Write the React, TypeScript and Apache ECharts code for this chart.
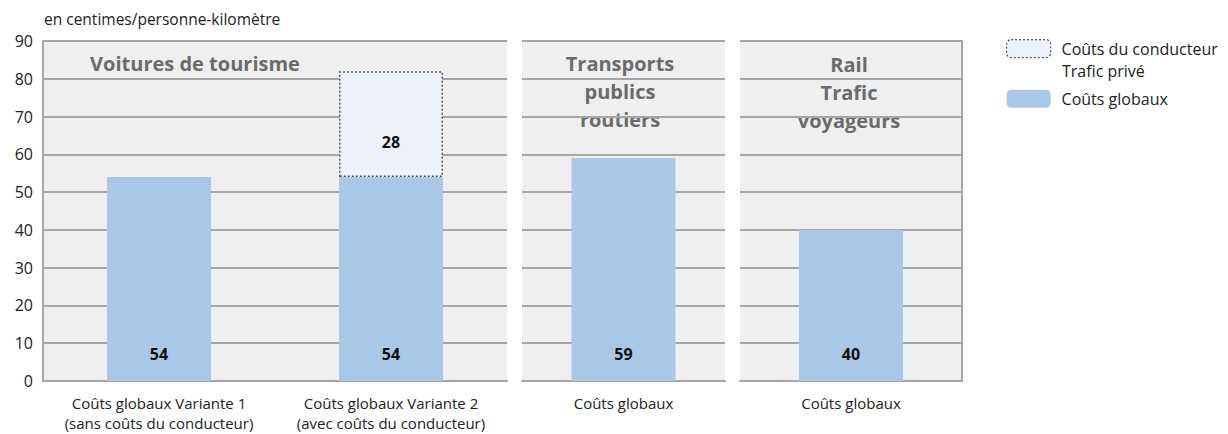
import React, { useEffect, useRef } from "react";
import * as echarts from "echarts";

const carCategories = [
  "Coûts globaux Variante 1\n(sans coûts du conducteur)",
  "Coûts globaux Variante 2\n(avec coûts du conducteur)",
];
const publicCategories = ["Coûts globaux"];
const railCategories = ["Coûts globaux"];
const carGlobal = [54, 54];
const carDriver: (number | null)[] = [null, 28];
const publicGlobal = [59];
const railGlobal = [40];
const yTicks = [0, 10, 20, 30, 40, 50, 60, 70, 80, 90];
const driverName = "Coûts du conducteur";
const driverNameLine2 = "Trafic privé";
const globalName = "Coûts globaux";

const FONT = "'Open Sans', sans-serif";
const GRID_BG = "#efefef";
const BLUE = "#a9c8e7";
const LINE = "#a6a6a6";

export default function App() {
  const ref = useRef<HTMLDivElement>(null);
  useEffect(() => {
    const chart = echarts.init(ref.current!, undefined, { renderer: "svg" });
    const yMin = yTicks[0];
    const yMax = yTicks[yTicks.length - 1];
    const yInt = yTicks[1] - yTicks[0];
    const grids = [
      { left: 43, top: 41, width: 464, height: 340 },
      { left: 522, top: 41, width: 203, height: 340 },
      { left: 740, top: 41, width: 222, height: 340 },
    ].map((g) => ({
      ...g,
      show: true,
      backgroundColor: GRID_BG,
      borderWidth: 0,
      containLabel: false,
      outerBoundsMode: "none",
    }));
    const xAxisBase = {
      type: "category" as const,
      axisTick: { show: false },
      axisLine: { show: true, lineStyle: { color: LINE, width: 2 } },
      axisLabel: {
        interval: 0,
        color: "#222",
        fontFamily: FONT,
        fontSize: 15,
        lineHeight: 20,
        margin: 12,
      },
    };
    const yAxisBase = {
      type: "value" as const,
      min: yMin,
      max: yMax,
      interval: yInt,
      splitLine: { show: true, lineStyle: { color: LINE, width: 2 } },
      axisTick: { show: false },
    };
    const labelStyle = {
      show: true,
      position: "insideBottom" as const,
      distance: 19,
      color: "#111",
      fontFamily: FONT,
      fontWeight: "bold" as const,
      fontSize: 16,
    };
    const titleStyle = {
      fill: "#6b6b6b",
      fontFamily: FONT,
      fontWeight: "bold",
      fontSize: 20,
      lineHeight: 28,
      align: "center",
      verticalAlign: "top",
      backgroundColor: GRID_BG,
      padding: [0, 8],
    };
    chart.setOption({
      animation: false,
      grid: grids,
      xAxis: [
        { ...xAxisBase, gridIndex: 0, data: carCategories },
        { ...xAxisBase, gridIndex: 1, data: publicCategories },
        { ...xAxisBase, gridIndex: 2, data: railCategories },
      ],
      yAxis: [
        {
          ...yAxisBase,
          gridIndex: 0,
          axisLine: { show: true, lineStyle: { color: LINE, width: 2 } },
          axisLabel: { color: "#222", fontFamily: FONT, fontSize: 16, margin: 10 },
          name: "en centimes/personne-kilomètre",
          nameLocation: "end",
          nameGap: 14,
          nameTextStyle: { color: "#222", fontFamily: FONT, fontSize: 15.5, align: "left", padding: [0, 0, 0, 1] },
        },
        { ...yAxisBase, gridIndex: 1, axisLine: { show: false }, axisLabel: { show: false } },
        {
          ...yAxisBase,
          gridIndex: 2,
          position: "right",
          axisLine: { show: true, lineStyle: { color: LINE, width: 2 } },
          axisLabel: { show: false },
        },
      ],
      legend: {
        orient: "vertical",
        left: 1006,
        top: 39,
        padding: 0,
        itemWidth: 44,
        itemHeight: 18,
        itemGap: 31,
        textStyle: { color: "#222", fontFamily: FONT, fontSize: 16, lineHeight: 19, padding: [0, 0, 0, 6] },
        data: [
          {
            name: driverName,
            itemStyle: { color: "#edf2fa", borderColor: "#555", borderWidth: 1.2, borderType: [2, 2] },
          },
          { name: globalName, itemStyle: { color: BLUE } },
        ],
      },
      graphic: [
        { type: "text", x: 195, y: 49, style: { ...titleStyle, text: "Voitures de tourisme", backgroundColor: "transparent" } },
        { type: "text", x: 620, y: 49, style: { ...titleStyle, text: "Transports\npublics\nroutiers" } },
        { type: "text", x: 849, y: 50, style: { ...titleStyle, text: "Rail\nTrafic\nvoyageurs" } },
        {
          type: "text",
          x: 1062,
          y: 63,
          style: { text: driverNameLine2, fill: "#222", fontFamily: FONT, fontSize: 16, verticalAlign: "top" },
        },
      ],
      series: [
        {
          name: globalName,
          type: "bar",
          xAxisIndex: 0,
          yAxisIndex: 0,
          stack: "cars",
          barWidth: 104,
          data: carGlobal,
          itemStyle: { color: BLUE },
          label: labelStyle,
        },
        {
          name: driverName,
          type: "bar",
          xAxisIndex: 0,
          yAxisIndex: 0,
          stack: "cars",
          barWidth: 104,
          data: carDriver.map((v) => (v == null ? "-" : v)),
          itemStyle: { color: "#edf2fa", borderColor: "#555", borderWidth: 1.5, borderType: [2, 2] },
          label: { ...labelStyle, distance: 27 },
        },
        {
          name: globalName,
          type: "bar",
          xAxisIndex: 1,
          yAxisIndex: 1,
          barWidth: 104,
          data: publicGlobal,
          itemStyle: { color: BLUE },
          label: labelStyle,
        },
        {
          name: globalName,
          type: "bar",
          xAxisIndex: 2,
          yAxisIndex: 2,
          barWidth: 104,
          data: railGlobal,
          itemStyle: { color: BLUE },
          label: labelStyle,
        },
      ],
    });
    return () => chart.dispose();
  }, []);
  return (
    <div
      ref={ref}
      style={{ position: "absolute", left: 0, top: 0, width: 1228, height: 434 }}
    />
  );
}
